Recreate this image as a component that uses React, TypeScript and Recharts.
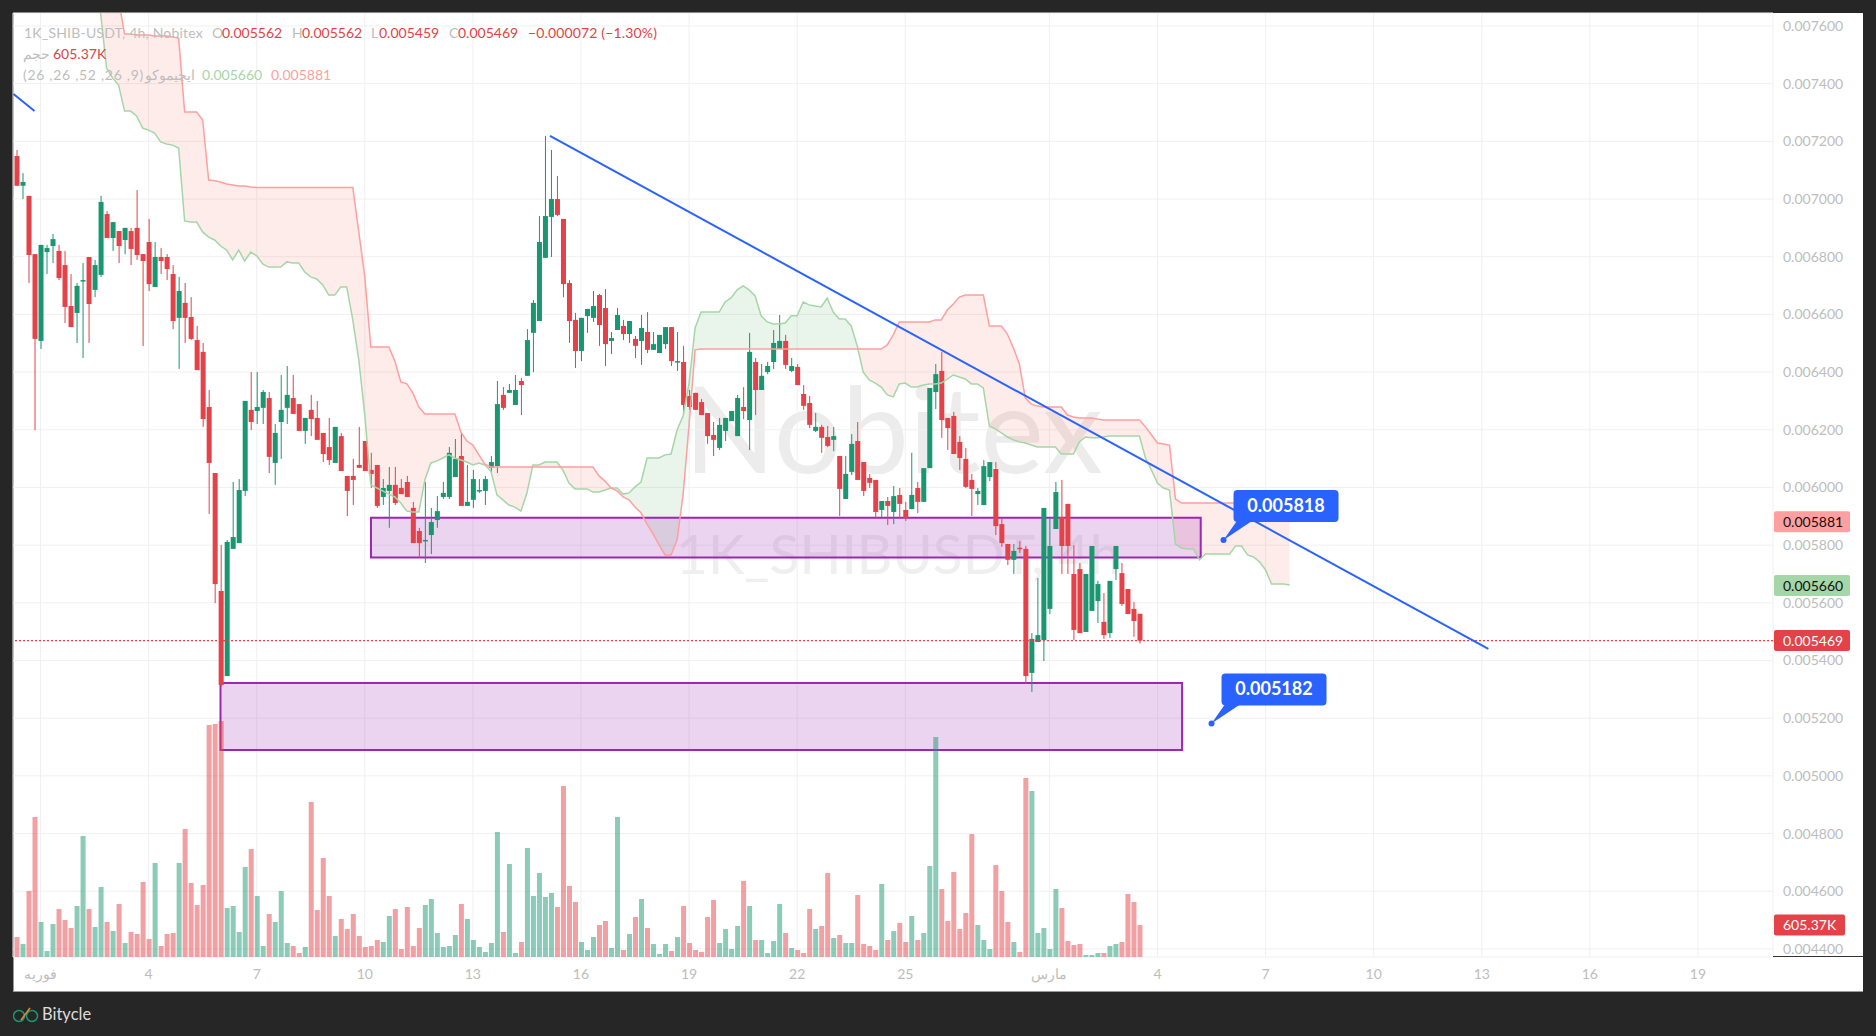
import { ComposedChart, Bar, Line, Area, XAxis, YAxis, CartesianGrid, Cell, ReferenceArea, ReferenceLine, ReferenceDot } from "recharts";

// prices are stored in millionths (5469 = 0.005469), volume in thousands
const openValues = [
  7149,7046,7011,6809,6508,6816,6837,6820,6771,6629,
  6605,6717,6799,6685,6737,6948,6865,6889,6858,6889,
  6900,6809,6851,6695,6799,6799,6740,6588,6640,6591,
  6511,6470,6279,6050,5641,5346,5787,5807,5988,6269,
  6265,6276,6310,6085,6227,6276,6310,6289,6196,6269,
  6241,6189,6140,6085,6178,6040,6040,6078,6161,6061,
  6078,5967,5988,6009,5998,6019,5929,5849,5816,5835,
  5887,5967,5967,6036,6109,5936,5957,5989,5988,6068,
  6074,6321,6328,6286,6369,6387,6536,6577,6796,6938,
  7000,6931,6709,6581,6473,6594,6588,6667,6622,6508,
  6546,6560,6532,6515,6508,6539,6477,6466,6497,6556,
  6436,6435,6317,6328,6296,6258,6182,6137,6196,6230,
  6178,6279,6234,6435,6338,6400,6435,6480,6508,6404,
  6418,6324,6293,6196,6210,6175,6165,6109,5960,6054,
  6161,6088,6033,6026,5922,5953,5915,5974,5922,5925,
  5998,5950,6067,6331,6404,6241,6248,6158,6099,6026,
  5977,5939,6036,6064,5873,5804,5749,5791,5787,5357,
  5464,5471,5579,5856,5898,5943,5700,5717,5499,5572,
  5606,5534,5495,5717,5703,5648,5579,5562,
];
const highValues = [
  7170,7090,7011,6809,6841,6841,6879,6841,6820,6740,
  6709,6778,6799,6789,7011,6958,6920,6889,6900,6900,
  7031,6809,6931,6851,6830,6809,6771,6730,6709,6660,
  6560,6501,6338,6050,5801,5818,6019,6029,6300,6400,
  6400,6338,6331,6220,6390,6421,6390,6289,6241,6321,
  6300,6189,6241,6210,6189,6040,6099,6210,6161,6120,
  6078,6029,6071,6071,6029,6040,5950,5860,6019,5929,
  5970,6019,6140,6168,6189,6078,6061,6029,6040,6109,
  6369,6348,6359,6390,6380,6549,6650,6941,7219,7170,
  7080,6931,6719,6605,6588,6619,6681,6671,6688,6539,
  6622,6581,6577,6525,6598,6608,6539,6529,6556,6556,
  6539,6491,6338,6328,6307,6258,6227,6241,6241,6265,
  6321,6348,6536,6449,6428,6435,6546,6598,6529,6449,
  6428,6355,6317,6258,6217,6213,6210,6109,6109,6185,
  6227,6088,6047,6026,5953,5967,6005,5998,5950,6120,
  6019,6067,6345,6428,6470,6241,6262,6178,6137,6047,
  5998,6095,6088,6088,5891,5804,5804,5814,5797,5495,
  5686,5929,5891,6019,6026,5943,5800,5738,5700,5797,
  5676,5634,5676,5797,5738,5648,5603,5562,
];
const lowValues = [
  7046,7000,6709,6199,6480,6740,6778,6719,6570,6556,
  6501,6449,6501,6660,6730,6865,6820,6778,6809,6771,
  6789,6490,6681,6695,6740,6719,6549,6411,6501,6511,
  6407,6210,5908,5599,5310,5346,5787,5807,5970,6199,
  6220,6220,6050,6009,6099,6220,6255,6196,6151,6178,
  6165,6088,6078,6085,6057,5901,5939,6068,6057,5998,
  5929,5939,5860,5939,5977,5967,5807,5755,5738,5769,
  5860,5960,5960,6036,5936,5936,5929,5981,5939,6050,
  6050,6269,6328,6286,6251,6387,6400,6577,6796,6799,
  6941,6660,6501,6414,6438,6536,6574,6491,6421,6463,
  6546,6511,6501,6449,6425,6466,6477,6466,6480,6421,
  6404,6251,6269,6269,6251,6151,6109,6130,6161,6230,
  6178,6237,6130,6251,6338,6393,6411,6480,6411,6400,
  6355,6269,6206,6192,6120,6140,6126,5901,5960,6043,
  6026,5970,5998,5891,5898,5870,5873,5894,5884,5925,
  5911,5950,6067,6272,6172,6130,6116,6061,5998,5901,
  5939,5939,6022,5835,5794,5731,5700,5773,5319,5291,
  5464,5398,5561,5856,5700,5700,5471,5495,5499,5572,
  5530,5475,5478,5679,5589,5561,5482,5459,
];
const closeValues = [
  7046,7059,6806,6515,6841,6830,6861,6726,6626,6556,
  6699,6719,6636,6771,6990,6865,6920,6837,6900,6827,
  6806,6785,6705,6799,6785,6757,6577,6681,6588,6515,
  6407,6237,6085,5665,5315,5811,5828,5991,6300,6227,
  6279,6331,6106,6189,6269,6321,6255,6196,6241,6237,
  6165,6116,6095,6210,6057,5988,6026,6068,6057,6047,
  5936,5998,6009,5946,5977,5967,5807,5807,5818,5880,
  5918,5981,6120,6099,5936,5950,6029,5991,6029,6088,
  6289,6276,6338,6338,6355,6511,6640,6851,6941,7000,
  6945,6705,6577,6473,6588,6619,6629,6563,6497,6518,
  6598,6532,6577,6491,6553,6477,6497,6529,6556,6438,
  6438,6286,6279,6269,6251,6178,6165,6217,6241,6265,
  6310,6265,6470,6338,6387,6421,6501,6508,6425,6421,
  6355,6283,6217,6210,6172,6144,6178,5995,6047,6151,
  6026,5988,6016,5915,5953,5936,5970,5943,5894,5974,
  5950,6067,6345,6393,6234,6206,6116,6102,6002,5995,
  5988,6074,6088,5866,5807,5749,5780,5789,5346,5475,
  5488,5929,5797,5984,5797,5797,5506,5495,5700,5797,
  5665,5488,5676,5797,5596,5561,5537,5469,
];
const volumeValues = [
  378,246,1249,2649,662,114,624,908,700,549,
  965,2289,908,568,1324,662,492,1003,265,473,
  435,1419,341,1778,208,435,454,1778,2422,1400,
  984,1362,4389,4408,4465,927,965,473,1703,2043,
  1154,208,813,662,1249,265,208,76,189,2932,
  889,1873,1154,397,719,530,813,397,189,208,
  322,284,776,908,151,946,208,549,984,1097,
  454,189,208,416,1003,719,322,189,95,265,
  2365,473,1759,76,284,2062,1154,1589,1135,1211,
  946,3235,1343,1040,284,132,378,605,681,170,
  2649,132,435,757,1097,549,246,57,246,114,
  378,965,265,132,95,757,1078,265,530,151,
  586,1438,965,322,322,76,303,1003,454,170,
  132,76,908,530,586,1589,359,416,265,265,
  1173,246,208,132,1381,322,492,643,284,776,
  322,454,1722,4162,1286,681,1608,530,832,2327,
  605,322,151,1740,1249,662,284,95,3386,3140,
  454,549,151,1286,927,303,227,246,38,38,
  76,76,208,246,284,1192,1040,605,
];
// ichimoku spans start at candle 13, they run above the visible range before that
const spanStart = 13;
const spanAValues = [
  7725,7645,7454,7420,7395,7305,7305,7288,7246,7239,7229,7198,7191,7187,7177,6924,6920,
  6920,6886,6868,6858,6837,6823,6789,6823,6785,6816,6803,6775,6764,6764,6764,6782,6778,
  6778,6747,6730,6723,6702,6667,6667,6695,6695,6581,6442,6251,6009,5998,5988,5977,5967,
  5946,5918,5915,5915,6026,6085,6092,6102,6113,6102,6095,6088,6078,6085,6078,6057,5974,
  5957,5939,5932,5918,5981,6078,6078,6088,6088,6088,6060,6015,5995,5995,5995,5984,5984,
  5991,5998,5998,5977,5981,6002,6019,6102,6102,6102,6113,6116,6199,6248,6362,6553,6608,
  6608,6608,6608,6643,6657,6685,6699,6685,6664,6595,6574,6567,6567,6570,6595,6595,6643,
  6633,6629,6626,6657,6608,6584,6584,6560,6491,6400,6373,6362,6348,6321,6314,6359,6362,
  6348,6348,6355,6359,6359,6362,6376,6390,6383,6376,6359,6359,6345,6213,6203,6189,6175,
  6165,6158,6154,6147,6140,6140,6140,6140,6116,6116,6116,6158,6175,6172,6172,6175,6178,
  6178,6178,6178,6178,6178,6102,6060,6015,5998,5991,5804,5790,5787,5787,5749,5769,5769,
  5769,5769,5769,5797,5797,5766,5759,5742,5714,5665,5665,5665,5662,
];
const spanBValues = [
  7898,7864,7829,7794,7690,7572,7572,7569,7569,7569,7565,7565,7565,7562,7558,7302,7302,
  7302,7274,7066,7063,7059,7052,7049,7045,7045,7042,7040,7040,7040,7040,7040,7040,7040,
  7040,7040,7040,7040,7040,7040,7040,7040,7040,7040,6886,6730,6487,6487,6487,6487,6438,
  6366,6359,6328,6279,6255,6255,6255,6255,6255,6255,6192,6161,6147,6113,6081,6071,6071,
  6071,6071,6071,6071,6071,6071,6071,6071,6071,6071,6071,6071,6071,6071,6071,6071,6040,
  6022,5998,5988,5967,5957,5932,5912,5873,5839,5801,5766,5766,5818,5974,6217,6477,6480,
  6480,6480,6480,6480,6480,6480,6480,6480,6480,6480,6480,6480,6480,6480,6480,6480,6480,
  6480,6480,6480,6480,6480,6480,6480,6480,6480,6480,6480,6480,6480,6494,6529,6574,6574,
  6574,6574,6574,6574,6581,6581,6615,6636,6660,6667,6667,6667,6667,6560,6560,6560,6532,
  6484,6428,6310,6289,6282,6279,6279,6279,6279,6251,6244,6241,6241,6241,6237,6234,6234,
  6234,6234,6234,6234,6234,6210,6182,6154,6151,6147,5960,5946,5946,5946,5946,5946,5946,
  5946,5946,5946,5946,5946,5946,5946,5946,5946,5946,5946,5946,5946,
];
const xTickIndex = [4, 22, 40, 58, 76, 94, 112, 130, 148, 172, 190, 208, 226, 244, 262, 280];
const xTickLabels = ["فوریه", "4", "7", "10", "13", "16", "19", "22", "25", "مارس", "4", "7", "10", "13", "16", "19"];
const priceTicks = [4400, 4600, 4800, 5000, 5200, 5400, 5600, 5800, 6000, 6200, 6400, 6600, 6800, 7000, 7200, 7400, 7600];

const UP = "#1a9770";
const DOWN = "#e34248";
const BLUE = "#2962ff";
const PURPLE = "#9c27b0";
const FONT = "Lato, sans-serif";

const rows = spanBValues.map((_, k) => k + spanStart).reduce(
  (list, i) => {
    list[i] = { ...(list[i] || { i }), a: spanAValues[i - spanStart], b: spanBValues[i - spanStart] };
    return list;
  },
  openValues.map((o, i) => ({ i, open: o, high: highValues[i], low: lowValues[i], close: closeValues[i], volume: volumeValues[i] })) as any[]
);

function Candle(props: any) {
  const { x, y, width, height, payload } = props;
  if (payload.open == null) return null;
  const k = Math.abs(height) / (payload.high - payload.low);
  const up = payload.close >= payload.open;
  const color = up ? UP : DOWN;
  const top = y + (payload.high - Math.max(payload.open, payload.close)) * k;
  const body = Math.max(1.5, Math.abs(payload.open - payload.close) * k);
  return (
    <g>
      <rect x={x + width / 2 - 0.5} y={y} width={1} height={Math.abs(height)} fill={color} />
      <rect x={x} y={top} width={width} height={body} fill={color} />
    </g>
  );
}

function PriceTag({ cx, cy, text, bg, color, w }: any) {
  return (
    <g>
      <rect x={cx + 1} y={cy - 10.5} width={w} height={21} rx={2} fill={bg} />
      <text x={cx + 10} y={cy + 5} fontSize={14} fontFamily={FONT} fill={color}>{text}</text>
    </g>
  );
}

function Callout({ cx, cy, text, dx, dy }: any) {
  const left = cx + dx;
  const top = cy + dy;
  return (
    <g>
      <circle cx={cx} cy={cy} r={3} fill={BLUE} />
      <path d={`M${cx} ${cy} L${left + 4} ${top + 30} L${left + 20} ${top + 30} Z`} fill={BLUE} />
      <rect x={left} y={top} width={105} height={32} rx={4} fill={BLUE} />
      <text x={left + 52.5} y={top + 22} textAnchor="middle" fontSize={18} fontWeight={700} fontFamily={FONT} fill="#fff">{text}</text>
    </g>
  );
}

function Txt({ x, y, color, size = 14, spacing = 0, children }: any) {
  return (
    <span style={{ position: "absolute", left: x, top: y - 10, lineHeight: "20px", fontSize: size, letterSpacing: spacing, color, fontFamily: FONT, whiteSpace: "pre" }}>
      {children}
    </span>
  );
}

export default function App() {
  return (
    <div style={{ position: "absolute", left: 0, top: 0, width: 1876, height: 1036, background: "#262626", overflow: "hidden" }}>
      <div style={{ position: "absolute", left: 13, top: 13, width: 1850, height: 979, boxSizing: "border-box", background: "#fff", borderLeft: "1px solid #999", borderBottom: "1px solid #999" }} />

      <div style={{ position: "absolute", left: 684, top: 352, fontFamily: FONT, fontSize: 120, lineHeight: "150px", color: "#ececec", whiteSpace: "pre" }}>Nobitex</div>
      <div style={{ position: "absolute", left: 676, top: 517, fontFamily: FONT, fontSize: 55, lineHeight: "72px", color: "#efefef", whiteSpace: "pre" }}>1K_SHIBUSDT, 4h</div>

      <div style={{ position: "absolute", left: 0, top: 0 }}>
        <ComposedChart width={1876} height={1036} data={rows} margin={{ top: 13, right: 13, bottom: 49, left: 13 }}>
          <CartesianGrid stroke="#f0f0f0" />
          <XAxis
            dataKey="i"
            type="number"
            domain={[-0.583, 292.5]}
            ticks={xTickIndex}
            interval={0}
            height={30}
            axisLine={false}
            tickLine={false}
            tickMargin={6}
            tickFormatter={(v: number) => xTickLabels[xTickIndex.indexOf(v)]}
            tick={{ fontSize: 14, fontFamily: FONT, fill: "#bdbdbd" }}
          />
          <XAxis xAxisId="vol" dataKey="i" type="number" domain={[-0.583, 292.5]} hide />
          <YAxis
            orientation="right"
            width={90}
            domain={[4372, 7645]}
            allowDataOverflow
            ticks={priceTicks}
            interval={0}
            axisLine={false}
            tickLine={false}
            tickMargin={4}
            tickFormatter={(v: number) => (v / 1000000).toFixed(6)}
            tick={{ fontSize: 14, fontFamily: FONT, fill: "#bdbdbd" }}
          />
          <YAxis yAxisId="vol" domain={[0, 17860]} hide />

          <Area dataKey={(d: any) => (d.a == null ? null : [d.a, Math.max(d.a, d.b)])} stroke="none" fill="#f44336" fillOpacity={0.1} dot={false} activeDot={false} isAnimationActive={false} />
          <Area dataKey={(d: any) => (d.a == null ? null : [Math.min(d.a, d.b), d.a])} stroke="none" fill="#4caf50" fillOpacity={0.12} dot={false} activeDot={false} isAnimationActive={false} />
          <Line dataKey="a" stroke="#a5d6a7" strokeWidth={1.5} dot={false} activeDot={false} isAnimationActive={false} />
          <Line dataKey="b" stroke="#ff9f9f" strokeWidth={1.5} dot={false} activeDot={false} isAnimationActive={false} />

          <Bar xAxisId="vol" yAxisId="vol" dataKey="volume" barSize={5} fillOpacity={0.5} isAnimationActive={false}>
            {rows.map((r: any, i: number) => (
              <Cell key={i} fill={r.close >= r.open ? UP : DOWN} />
            ))}
          </Bar>
          <Bar dataKey={(d: any) => (d.open == null ? null : [d.low, d.high])} barSize={5} shape={<Candle />} isAnimationActive={false} />

          <ReferenceLine y={5469} stroke={DOWN} strokeDasharray="2 2" strokeWidth={1.2} />
          <ReferenceArea x1={59.03} x2={197.2} y1={5757} y2={5895} fill={PURPLE} fillOpacity={0.2} stroke={PURPLE} strokeWidth={2} />
          <ReferenceArea x1={33.97} x2={194.1} y1={5090} y2={5322} fill={PURPLE} fillOpacity={0.2} stroke={PURPLE} strokeWidth={2} />
          <ReferenceLine segment={[{ x: -0.5, y: 7364 }, { x: 3, y: 7305 }]} stroke={BLUE} strokeWidth={2} />
          <ReferenceLine segment={[{ x: 88.84, y: 7219 }, { x: 245.1, y: 5440 }]} stroke={BLUE} strokeWidth={2} />

          <ReferenceDot x={201} y={5818} shape={<Callout text="0.005818" dx={10} dy={-50} />} />
          <ReferenceDot x={199} y={5182} shape={<Callout text="0.005182" dx={10} dy={-50} />} />
          <ReferenceDot x={292.5} y={5881} shape={<PriceTag text="0.005881" bg="#ff9f9f" color="#111" w={76} />} />
          <ReferenceDot x={292.5} y={5660} shape={<PriceTag text="0.005660" bg="#a5d6a7" color="#111" w={76} />} />
          <ReferenceDot x={292.5} y={5469} shape={<PriceTag text="0.005469" bg={DOWN} color="#fff" w={76} />} />
          <ReferenceDot xAxisId="vol" yAxisId="vol" x={292.5} y={605.37} shape={<PriceTag text="605.37K" bg={DOWN} color="#fff" w={71} />} />
        </ComposedChart>
      </div>

      <div style={{ position: "absolute", left: 1773, top: 956, width: 90, height: 1, background: "#333" }} />

      <Txt x={24} y={33} color="#bdbdbd" spacing={0.2}>1K_SHIB-USDT, 4h, Nobitex</Txt>
      <Txt x={212} y={33} color="#bdbdbd">O</Txt>
      <Txt x={222} y={33} color={DOWN}>0.005562</Txt>
      <Txt x={292} y={33} color="#bdbdbd">H</Txt>
      <Txt x={302} y={33} color={DOWN}>0.005562</Txt>
      <Txt x={371} y={33} color="#bdbdbd">L</Txt>
      <Txt x={379} y={33} color={DOWN}>0.005459</Txt>
      <Txt x={449} y={33} color="#bdbdbd">C</Txt>
      <Txt x={458} y={33} color={DOWN}>0.005469</Txt>
      <Txt x={528} y={33} color={DOWN} spacing={0.15}>−0.000072 (−1.30%)</Txt>
      <Txt x={23} y={54} color="#bdbdbd">حجم</Txt>
      <Txt x={53} y={54} color={DOWN}>605.37K</Txt>
      <Txt x={23} y={75} color="#bdbdbd" spacing={0.7}>(26 ,26 ,52 ,26 ,9)</Txt>
      <Txt x={145} y={75} color="#bdbdbd">ایچیموکو</Txt>
      <Txt x={202} y={75} color="#a5d6a7">0.005660</Txt>
      <Txt x={271} y={75} color="#ff9f9f">0.005881</Txt>

      <svg style={{ position: "absolute", left: 13, top: 1005 }} width={26} height={20}>
        <circle cx={6} cy={11} r={5.5} fill="none" stroke="#1a9770" strokeWidth={1.5} />
        <circle cx={19} cy={11} r={5.5} fill="none" stroke="#1a9770" strokeWidth={1.5} />
        <path d="M8 15 L17 3" stroke="#e8883a" strokeWidth={1.5} />
      </svg>
      <Txt x={42} y={1014} color="#dddddd" size={16.5}>Bitycle</Txt>
    </div>
  );
}
